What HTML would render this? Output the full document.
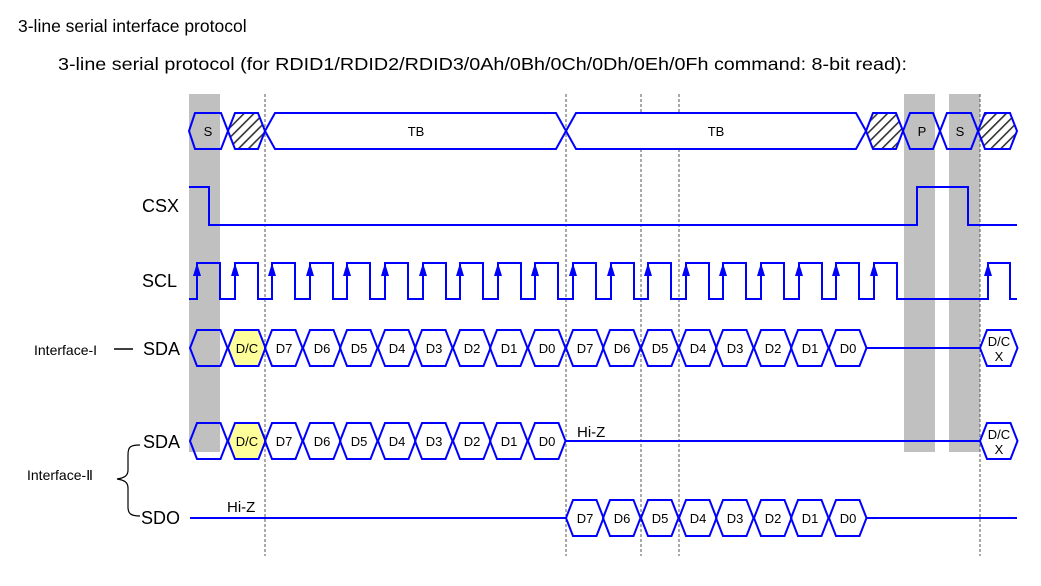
<!DOCTYPE html>
<html><head><meta charset="utf-8"><style>
html,body{margin:0;padding:0;background:#fff}
svg{display:block}
text{font-family:"Liberation Sans",Arial,sans-serif;fill:#000}
</style></head><body>
<svg width="1041" height="586" viewBox="0 0 1041 586" xmlns="http://www.w3.org/2000/svg">
<defs>
<pattern id="hat" patternUnits="userSpaceOnUse" width="7" height="7" patternTransform="rotate(45)">
<rect width="7" height="7" fill="#fff"/><rect x="0" y="0" width="1.6" height="7" fill="#333"/>
</pattern>
<polygon id="h" points="0,0 7,-18 30.5,-18 37.5,0 30.5,18 7,18"/>
</defs>
<text x="18" y="32" font-size="17.5">3-line serial interface protocol</text>
<text x="58" y="70" font-size="17.5" textLength="849" lengthAdjust="spacingAndGlyphs">3-line serial protocol (for RDID1/RDID2/RDID3/0Ah/0Bh/0Ch/0Dh/0Eh/0Fh command: 8-bit read):</text>

<rect x="189" y="94" width="31" height="358" fill="#c0c0c0"/>
<rect x="904" y="94" width="31" height="358" fill="#c0c0c0"/>
<rect x="949" y="94" width="31" height="358" fill="#c0c0c0"/>

<g stroke="#555" stroke-width="1" stroke-dasharray="3,2">
<line x1="265" y1="94" x2="265" y2="556"/>
<line x1="566" y1="94" x2="566" y2="556"/>
<line x1="641" y1="94" x2="641" y2="556"/>
<line x1="679" y1="94" x2="679" y2="556"/>
<line x1="980" y1="94" x2="980" y2="556"/>
</g>

<g fill="none" stroke="#0000ff" stroke-width="2">
<polygon points="189,131 195,113 221,113 228,131 221,149 195,149"/>
<polygon points="228,131 235,113 258,113 265,131 258,149 235,149" fill="url(#hat)"/>
<polygon points="265,131 275,113 556,113 566,131 556,149 275,149" fill="#fff"/>
<polygon points="566,131 576,113 856,113 866,131 856,149 576,149" fill="#fff"/>
<polygon points="866,131 873,113 896,113 903,131 896,149 873,149" fill="url(#hat)"/>
<polygon points="903,131 910,113 933,113 940,131 933,149 910,149"/>
<polygon points="940,131 947,113 971,113 978,131 971,149 947,149"/>
<polygon points="978,131 985,113 1010,113 1017,131 1010,149 985,149" fill="url(#hat)"/>
<path d="M189,187 H209 V225 H917 V187 H968 V225 H1017"/>
<path d="M189,299 H197 V263 H220 V299 H235 V263 H258 V299 H272 V263 H295 V299 H310 V263 H333 V299 H347 V263 H370 V299 H385 V263 H408 V299 H423 V263 H446 V299 H460 V263 H483 V299 H498 V263 H521 V299 H535 V263 H558 V299 H573 V263 H596 V299 H611 V263 H634 V299 H648 V263 H671 V299 H686 V263 H709 V299 H723 V263 H746 V299 H761 V263 H784 V299 H799 V263 H822 V299 H836 V263 H859 V299 H874 V263 H897 V299 H988 V263 H1010 V299 H1017"/>
<line x1="866" y1="348" x2="980" y2="348"/>
<line x1="566" y1="441" x2="980" y2="441"/>
<line x1="190" y1="518" x2="566" y2="518"/>
<line x1="866" y1="518" x2="1017" y2="518"/>
</g>
<g fill="#0000ff">
<path d="M197,263 l-4,13 h8z"/><path d="M235,263 l-4,13 h8z"/><path d="M272,263 l-4,13 h8z"/><path d="M310,263 l-4,13 h8z"/><path d="M347,263 l-4,13 h8z"/><path d="M385,263 l-4,13 h8z"/><path d="M423,263 l-4,13 h8z"/><path d="M460,263 l-4,13 h8z"/><path d="M498,263 l-4,13 h8z"/><path d="M535,263 l-4,13 h8z"/><path d="M573,263 l-4,13 h8z"/><path d="M611,263 l-4,13 h8z"/><path d="M648,263 l-4,13 h8z"/><path d="M686,263 l-4,13 h8z"/><path d="M723,263 l-4,13 h8z"/><path d="M761,263 l-4,13 h8z"/><path d="M799,263 l-4,13 h8z"/><path d="M836,263 l-4,13 h8z"/><path d="M874,263 l-4,13 h8z"/><path d="M988,263 l-4,13 h8z"/>
</g>

<g fill="none" stroke="#0000ff" stroke-width="2">
<use href="#h" x="190" y="348"/>
<use href="#h" x="228" y="348" fill="#ffff99"/>
<use href="#h" x="265" y="348"/><use href="#h" x="303" y="348"/><use href="#h" x="340" y="348"/><use href="#h" x="378" y="348"/><use href="#h" x="415" y="348"/><use href="#h" x="453" y="348"/><use href="#h" x="490" y="348"/><use href="#h" x="528" y="348"/>
<use href="#h" x="566" y="348"/><use href="#h" x="603" y="348"/><use href="#h" x="641" y="348"/><use href="#h" x="679" y="348"/><use href="#h" x="716" y="348"/><use href="#h" x="754" y="348"/><use href="#h" x="791" y="348"/><use href="#h" x="829" y="348"/>
<use href="#h" x="980" y="348" fill="#fff"/>
<use href="#h" x="190" y="441"/>
<use href="#h" x="228" y="441" fill="#ffff99"/>
<use href="#h" x="265" y="441"/><use href="#h" x="303" y="441"/><use href="#h" x="340" y="441"/><use href="#h" x="378" y="441"/><use href="#h" x="415" y="441"/><use href="#h" x="453" y="441"/><use href="#h" x="490" y="441"/><use href="#h" x="528" y="441"/>
<use href="#h" x="980" y="441" fill="#fff"/>
<use href="#h" x="566" y="518"/><use href="#h" x="603" y="518"/><use href="#h" x="641" y="518"/><use href="#h" x="679" y="518"/><use href="#h" x="716" y="518"/><use href="#h" x="754" y="518"/><use href="#h" x="791" y="518"/><use href="#h" x="829" y="518"/>
</g>

<g font-size="13" text-anchor="middle">
<text x="208" y="136">S</text><text x="416" y="136">TB</text><text x="716" y="136">TB</text><text x="922" y="136">P</text><text x="960" y="136">S</text>
<text x="247" y="353">D/C</text>
<text x="284" y="353">D7</text><text x="322" y="353">D6</text><text x="359" y="353">D5</text><text x="397" y="353">D4</text><text x="434" y="353">D3</text><text x="472" y="353">D2</text><text x="509" y="353">D1</text><text x="547" y="353">D0</text>
<text x="585" y="353">D7</text><text x="622" y="353">D6</text><text x="660" y="353">D5</text><text x="698" y="353">D4</text><text x="735" y="353">D3</text><text x="773" y="353">D2</text><text x="810" y="353">D1</text><text x="848" y="353">D0</text>
<text x="999" y="346">D/C</text><text x="999" y="361">X</text>
<text x="247" y="446">D/C</text>
<text x="284" y="446">D7</text><text x="322" y="446">D6</text><text x="359" y="446">D5</text><text x="397" y="446">D4</text><text x="434" y="446">D3</text><text x="472" y="446">D2</text><text x="509" y="446">D1</text><text x="547" y="446">D0</text>
<text x="999" y="439">D/C</text><text x="999" y="454">X</text>
<text x="585" y="523">D7</text><text x="622" y="523">D6</text><text x="660" y="523">D5</text><text x="698" y="523">D4</text><text x="735" y="523">D3</text><text x="773" y="523">D2</text><text x="810" y="523">D1</text><text x="848" y="523">D0</text>
</g>

<g font-size="18">
<text x="142" y="212">CSX</text>
<text x="142" y="287">SCL</text>
<text x="143" y="355">SDA</text>
<text x="143" y="448">SDA</text>
<text x="141" y="524">SDO</text>
</g>
<g font-size="15">
<text x="577" y="437">Hi-Z</text>
<text x="227" y="512">Hi-Z</text>
</g>
<g font-size="14">
<text x="34" y="355">Interface-I</text>
<text x="27" y="480">Interface-Ⅱ</text>
</g>
<line x1="114" y1="349" x2="133" y2="349" stroke="#000" stroke-width="1.5"/>
<path d="M140,445 C130,445 128,447 128,455 V470 C128,476 124,478 117,479 C124,480 128,482 128,488 V507 C128,513 130,516 140,516" fill="none" stroke="#000" stroke-width="1.2"/>
</svg>
</body></html>
